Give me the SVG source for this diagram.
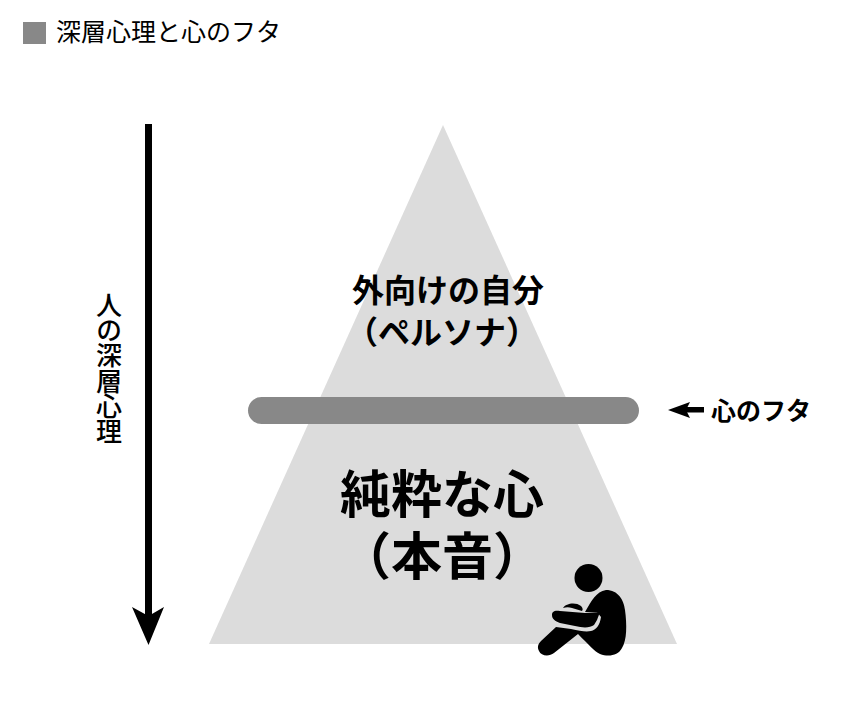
<svg xmlns="http://www.w3.org/2000/svg" width="855" height="701" viewBox="0 0 855 701">
<style>
text{font-family:"Noto Sans CJK JP","Noto Sans CJK SC",sans-serif;fill:#000}
.b{font-weight:700;text-anchor:middle}
.fig{fill:#000}
</style>
<rect width="855" height="701" fill="#fff"/>
<g id="title">
<rect x="23" y="22" width="23" height="22" fill="#888"/>
<text x="56" y="41" font-size="25">深層心理と心のフタ</text>
</g>
<g id="pyramid">
<polygon points="443,125 677,644 209,644" fill="#dcdcdc"/>
<text class="b" font-size="32"><tspan x="448" y="302">外向けの自分</tspan><tspan x="442" y="344">（ペルソナ）</tspan></text>
<text class="b" font-size="51"><tspan x="442" y="513">純粋な心</tspan><tspan x="442" y="575">（本音）</tspan></text>
</g>
<g id="lid">
<rect x="248" y="397" width="391" height="27" rx="13.5" fill="#888"/>
<text class="b" x="761" y="420" font-size="25">心のフタ</text>
</g>
<g id="depth-label">
<text x="109" y="292" font-size="26" letter-spacing="-0.700" font-weight="500" style="writing-mode:vertical-rl;text-orientation:upright">人の深層心理</text>
</g>
<g id="person">
<circle class="fig" cx="588.500" cy="578" r="14"/>
<path class="fig" d="M606 590C618 590 624 600 625 610C627 625 627 640 622 648C618 656 608 657 600 654C594 651 589 645 578 634L554 653C549 657 541 656 539 651C537 647 538 644 541 641L556 627L571 629C580 631 586 632 591 631C596 630 600 625 601 617L597 612L585 612C592 600 596 592 606 590Z"/>
<path class="fig" d="M585 613L560 611C554 610 552 612 552 615C552 619 555 621 560 623L575 626C583 628 590 628 594 625L597 620L600 612Z"/>
<path class="fig" d="M563 608C566 603 576 602 581 606C583 608 583 610 582 611L572 608C569 607 566 607 563 608Z"/>
</g>
<g id="connectors">
<rect x="145" y="124" width="7" height="496"/>
<polygon points="132,607 148.500,616 164,607 148.500,645"/>
<rect x="681" y="407" width="23" height="5.500"/>
<polygon points="668,410 690,402 686,410 690,418"/>
</g>
</svg>
